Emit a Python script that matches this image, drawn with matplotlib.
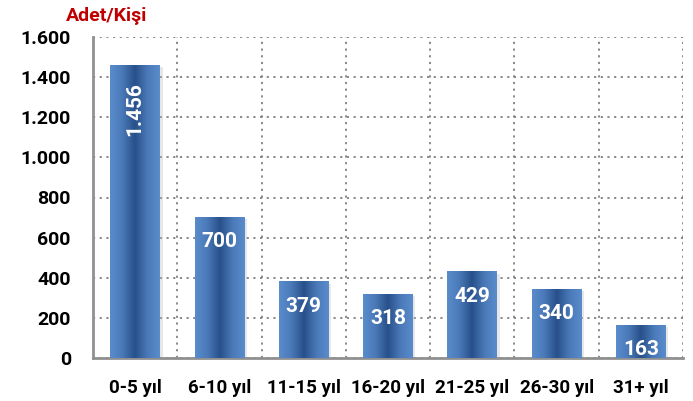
import numpy as np
import matplotlib.pyplot as plt
from matplotlib.colors import LinearSegmentedColormap

categories = ['0-5 yıl', '6-10 yıl', '11-15 yıl', '16-20 yıl', '21-25 yıl', '26-30 yıl', '31+ yıl']
values = [1456, 700, 379, 318, 429, 340, 163]
yticks = [0, 200, 400, 600, 800, 1000, 1200, 1400, 1600]

plt.rcParams['font.family'] = ['Roboto', 'DejaVu Sans']


def fmt(v):
    return f'{v:,}'.replace(',', '.')


fig = plt.figure(figsize=(6.93, 4.01), dpi=100)
ax = fig.add_axes([93 / 693, 1 - 358 / 401, 590 / 693, 321 / 401])

n = len(categories)
x = np.arange(n)
width = 0.59

cmap = LinearSegmentedColormap.from_list(
    'barg', ['#5a8ccc', '#4a79b8', '#28508a', '#4a79b8', '#5a8ccc'])
grad = np.linspace(0, 1, 256).reshape(1, -1)

for i, v in enumerate(values):
    # shadow
    ax.bar(x[i] + 0.03, v, width, bottom=-8, color='#bbbbbb', alpha=0.35, zorder=2)
    ax.imshow(grad, extent=[x[i] - width / 2, x[i] + width / 2, 0, v],
              aspect='auto', cmap=cmap, zorder=3, interpolation='bicubic')
    if v > 1000:
        ax.text(x[i], v - 80, fmt(v), rotation=90, ha='center', va='top',
                color='white', fontsize=15, fontweight='bold', zorder=5)
    else:
        ax.text(x[i], v - 120, fmt(v), ha='center', va='center',
                color='white', fontsize=15, fontweight='bold', zorder=5)

ax.set_xlim(-0.5, n - 0.5)
ax.set_ylim(0, 1600)
ax.set_yticks(yticks)
ax.set_yticklabels([fmt(t) for t in yticks], fontsize=14, fontweight='bold')
ax.set_xticks(x)
ax.set_xticklabels(categories, fontsize=13.5, fontweight='bold')
ax.set_xticks(np.arange(n + 1) - 0.5, minor=True)
ax.tick_params(axis='x', which='both', length=0, pad=15)
ax.tick_params(axis='y', length=0, pad=16)

ax.grid(True, axis='y', linestyle=(0, (1.2, 2.5)), color='#808080', linewidth=1.3, zorder=1)
ax.grid(True, axis='x', which='minor', linestyle=(0, (1.2, 2.5)), color='#808080', linewidth=1.3, zorder=1)
ax.grid(False, axis='x', which='major')

for s in ['top', 'right']:
    ax.spines[s].set_visible(False)
ax.spines['left'].set_color('#909090')
ax.spines['left'].set_linewidth(2)
ax.spines['bottom'].set_color('#909090')
ax.spines['bottom'].set_linewidth(2)

fig.text(66 / 693, 1 - 16 / 401, 'Adet/Kişi', color='#c00000', fontsize=14,
         fontweight='bold', ha='left', va='center')

plt.savefig('out.png', dpi=100)
